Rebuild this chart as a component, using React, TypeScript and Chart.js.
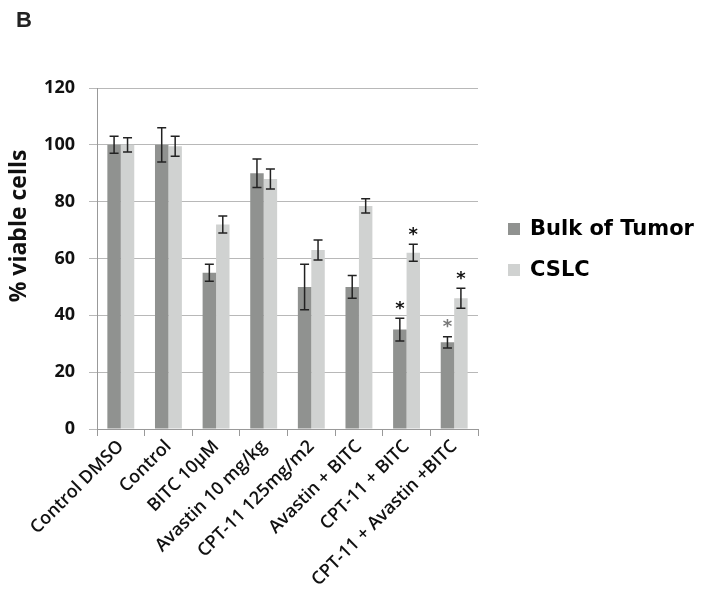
import React, { useEffect, useRef } from "react";
import { Chart, registerables } from "chart.js";

Chart.register(...registerables);

const categories = [
  "Control DMSO",
  "Control",
  "BITC 10µM",
  "Avastin 10 mg/kg",
  "CPT-11 125mg/m2",
  "Avastin + BITC",
  "CPT-11 + BITC",
  "CPT-11 + Avastin +BITC",
];
const bulkValues = [100, 100, 55, 90, 50, 50, 35, 30.5];
const bulkErrors = [3, 6, 3, 5, 8, 4, 4, 2];
const cslcValues = [100, 99.5, 72, 88, 63, 78.5, 62, 46];
const cslcErrors = [2.5, 3.5, 3, 3.5, 3.5, 2.5, 3, 3.5];
// star markers: "" none, "k" black, "g" gray
const bulkStars = ["", "", "", "", "", "", "k", "g"];
const cslcStars = ["", "", "", "", "", "", "k", "k"];
const yTicks = [0, 20, 40, 60, 80, 100, 120];
const seriesNames = ["Bulk of Tumor", "CSLC"];
const seriesColors = ["#909290", "#d0d2d1"];
const yTitle = "% viable cells";
const panelLetter = "B";

const errorBarPlugin = {
  id: "errorBars",
  afterDatasetsDraw(chart: any) {
    const ctx = chart.ctx;
    const yScale = chart.scales.y;
    const errs = [bulkErrors, cslcErrors];
    const vals = [bulkValues, cslcValues];
    const stars = [bulkStars, cslcStars];
    ctx.save();
    chart.data.datasets.forEach((_: any, di: number) => {
      const meta = chart.getDatasetMeta(di);
      meta.data.forEach((bar: any, i: number) => {
        const v = vals[di][i];
        const e = errs[di][i];
        const x = bar.x;
        const yTop = yScale.getPixelForValue(v + e);
        const yBot = yScale.getPixelForValue(v - e);
        ctx.strokeStyle = "#222";
        ctx.lineWidth = 1.5;
        ctx.beginPath();
        ctx.moveTo(x, yTop);
        ctx.lineTo(x, yBot);
        ctx.moveTo(x - 4.5, yTop);
        ctx.lineTo(x + 4.5, yTop);
        ctx.moveTo(x - 4.5, yBot);
        ctx.lineTo(x + 4.5, yBot);
        ctx.stroke();
        const s = stars[di][i];
        if (s) {
          ctx.fillStyle = s === "k" ? "#111" : "#777";
          ctx.font = "bold 18px 'DejaVu Sans'";
          ctx.textAlign = "center";
          ctx.textBaseline = "middle";
          ctx.fillText("*", x, yTop - 9);
        }
      });
    });
    ctx.restore();
  },
};

const decorPlugin = {
  id: "decor",
  afterDraw(chart: any) {
    const ctx = chart.ctx;
    ctx.save();
    // panel letter
    ctx.fillStyle = "#222";
    ctx.font = "bold 22px 'Liberation Sans'";
    ctx.textAlign = "left";
    ctx.textBaseline = "middle";
    ctx.fillText(panelLetter, 16, 21);
    // y axis title
    ctx.save();
    ctx.translate(19, 226);
    ctx.rotate(-Math.PI / 2);
    ctx.fillStyle = "#111";
    ctx.font = "700 23px 'Open Sans'";
    ctx.textAlign = "center";
    ctx.textBaseline = "middle";
    ctx.fillText(yTitle, 0, 0);
    ctx.restore();
    // legend
    const ys = [229, 270];
    ys.forEach((y, i) => {
      ctx.fillStyle = seriesColors[i];
      ctx.fillRect(508, y - 6, 12, 12);
      ctx.fillStyle = "#000";
      ctx.font = "bold 21px 'DejaVu Sans'";
      ctx.textAlign = "left";
      ctx.textBaseline = "middle";
      ctx.fillText(seriesNames[i], 530, y + 1);
    });
    ctx.restore();
  },
};

export default function App() {
  const ref = useRef<HTMLCanvasElement | null>(null);
  useEffect(() => {
    if (!ref.current) return;
    const chart = new Chart(ref.current, {
      type: "bar",
      data: {
        labels: categories,
        datasets: [
          {
            label: seriesNames[0],
            data: bulkValues,
            backgroundColor: seriesColors[0],
            categoryPercentage: 0.565,
            barPercentage: 1,
          },
          {
            label: seriesNames[1],
            data: cslcValues,
            backgroundColor: seriesColors[1],
            categoryPercentage: 0.565,
            barPercentage: 1,
          },
        ],
      },
      options: {
        responsive: false,
        animation: false,
        layout: { padding: { left: 0, top: 88, right: 238, bottom: 0 } },
        plugins: {
          legend: { display: false },
          tooltip: { enabled: false },
        },
        scales: {
          x: {
            grid: {
              offset: true,
              drawOnChartArea: false,
              drawTicks: true,
              tickLength: 7,
              color: "#999",
            },
            border: { display: true, color: "#999" },
            ticks: {
              minRotation: 45,
              maxRotation: 45,
              autoSkip: false,
              padding: 0,
              color: "#111",
              font: { family: "'Open Sans'", size: 18, weight: "600" },
            },
            afterFit: (s: any) => {
              s.height = 174;
            },
          },
          y: {
            min: 0,
            max: 120,
            afterBuildTicks: (s: any) => {
              s.ticks = yTicks.map((v) => ({ value: v }));
            },
            grid: {
              color: "#b8b8b8",
              drawTicks: true,
              tickLength: 8,
            },
            border: { display: true, color: "#999" },
            ticks: {
              padding: 14,
              color: "#111",
              font: { family: "'Open Sans'", size: 18, weight: "700" },
            },
            afterFit: (s: any) => {
              s.width = 97;
            },
          },
        },
      },
      plugins: [errorBarPlugin, decorPlugin],
    });
    return () => chart.destroy();
  }, []);
  return (
    <canvas
      ref={ref}
      width={716}
      height={603}
      style={{ position: "fixed", left: 0, top: 0, width: 716, height: 603, background: "#fff" }}
    />
  );
}
